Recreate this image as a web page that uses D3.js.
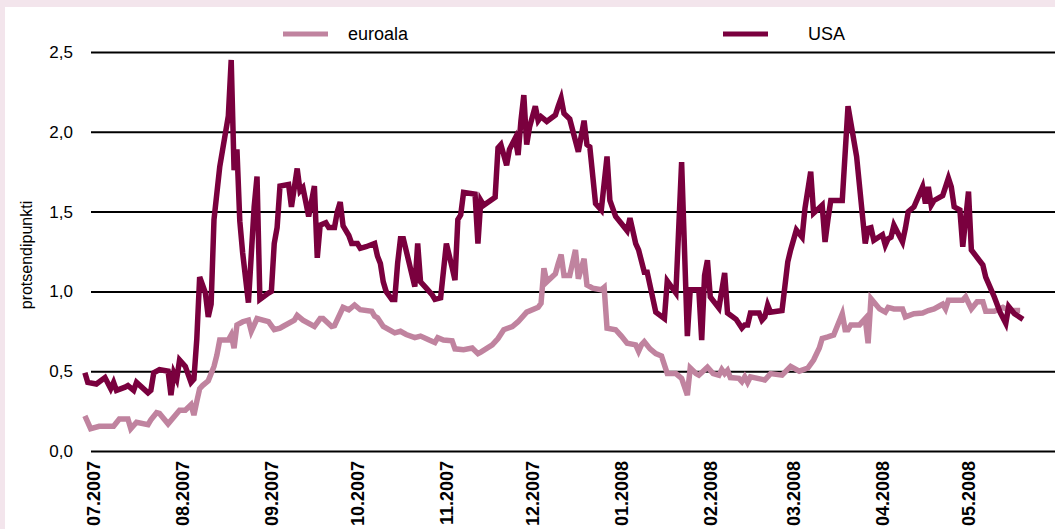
<!DOCTYPE html>
<html>
<head>
<meta charset="utf-8">
<script src="https://cdn.jsdelivr.net/npm/d3@7"></script>
<style>
  html, body { margin: 0; padding: 0; background: #f3e5ec; }
  svg { display: block; }
  text { font-family: "Liberation Sans", Arial, sans-serif; fill: #000; }
</style>
</head>
<body>
<svg id="chart" width="1055" height="529"></svg>
<script>
// Risk spread, percentage points: euro area vs USA, daily observations
const usaDates = [
  "2007-06-28","2007-06-29","2007-07-02","2007-07-05","2007-07-07","2007-07-08","2007-07-09","2007-07-12","2007-07-13","2007-07-15",
  "2007-07-16","2007-07-20","2007-07-21","2007-07-22","2007-07-24","2007-07-27","2007-07-28","2007-07-29","2007-07-30","2007-07-31",
  "2007-08-02","2007-08-04","2007-08-05","2007-08-06","2007-08-07","2007-08-09","2007-08-10","2007-08-11","2007-08-12","2007-08-14",
  "2007-08-17","2007-08-18","2007-08-19","2007-08-20","2007-08-21","2007-08-22","2007-08-24","2007-08-26","2007-08-27","2007-08-28","2007-08-31",
  "2007-09-01","2007-09-02","2007-09-03","2007-09-04","2007-09-07","2007-09-08","2007-09-10","2007-09-11","2007-09-12","2007-09-14",
  "2007-09-16","2007-09-17","2007-09-18","2007-09-20","2007-09-21","2007-09-23","2007-09-24","2007-09-25","2007-09-26","2007-09-28","2007-09-29",
  "2007-10-01","2007-10-02","2007-10-04","2007-10-07","2007-10-08","2007-10-09","2007-10-10","2007-10-11","2007-10-13","2007-10-14",
  "2007-10-15","2007-10-16","2007-10-17","2007-10-21","2007-10-22","2007-10-23","2007-10-25","2007-10-27","2007-10-28","2007-10-30",
  "2007-11-01","2007-11-03","2007-11-04","2007-11-05","2007-11-06","2007-11-07","2007-11-11","2007-11-12","2007-11-13","2007-11-14",
  "2007-11-18","2007-11-19","2007-11-20","2007-11-22","2007-11-23","2007-11-25","2007-11-26","2007-11-27","2007-11-28","2007-11-29","2007-11-30",
  "2007-12-02","2007-12-03","2007-12-04","2007-12-06","2007-12-09","2007-12-10","2007-12-11","2007-12-12","2007-12-14","2007-12-17",
  "2007-12-19","2007-12-20","2007-12-21","2007-12-23","2007-12-25","2007-12-27","2007-12-28","2007-12-30",
  "2008-01-01","2008-01-03","2008-01-04","2008-01-06","2008-01-07","2008-01-09","2008-01-10","2008-01-13","2008-01-16","2008-01-17",
  "2008-01-20","2008-01-22","2008-01-24","2008-01-25","2008-01-28","2008-01-29","2008-01-30","2008-01-31",
  "2008-02-01","2008-02-04","2008-02-06","2008-02-07","2008-02-10","2008-02-12","2008-02-13","2008-02-14","2008-02-15","2008-02-18",
  "2008-02-19","2008-02-20","2008-02-21","2008-02-22","2008-02-26","2008-02-28","2008-02-29",
  "2008-03-02","2008-03-04","2008-03-05","2008-03-07","2008-03-08","2008-03-11","2008-03-12","2008-03-13","2008-03-14","2008-03-18",
  "2008-03-20","2008-03-23","2008-03-26","2008-03-27","2008-03-28","2008-03-29",
  "2008-04-01","2008-04-02","2008-04-03","2008-04-04","2008-04-05","2008-04-08","2008-04-09","2008-04-10","2008-04-12","2008-04-15",
  "2008-04-16","2008-04-17","2008-04-18","2008-04-19","2008-04-22","2008-04-24","2008-04-25","2008-04-26","2008-04-28","2008-04-29",
  "2008-05-01","2008-05-02","2008-05-06","2008-05-07","2008-05-10","2008-05-12","2008-05-14","2008-05-15","2008-05-17","2008-05-20"
];
const usaValues = [
  0.49,0.43,0.42,0.46,0.39,0.43,0.38,0.40,0.41,0.38,
  0.43,0.365,0.38,0.49,0.51,0.50,0.35,0.49,0.45,0.57,
  0.53,0.43,0.45,0.70,1.09,0.99,0.84,0.92,1.45,1.78,
  2.10,2.45,1.76,1.89,1.44,1.24,0.93,1.53,1.72,0.95,0.99,
  1.00,1.30,1.40,1.66,1.67,1.53,1.77,1.63,1.65,1.47,
  1.66,1.21,1.415,1.43,1.40,1.40,1.50,1.56,1.41,1.35,1.30,
  1.30,1.27,1.28,1.30,1.22,1.175,1.06,1.00,0.95,0.95,
  1.175,1.33,1.33,1.03,1.30,1.06,1.02,0.98,0.95,0.96,
  1.30,1.15,1.07,1.45,1.48,1.62,1.61,1.30,1.57,1.54,
  1.59,1.90,1.92,1.79,1.89,1.96,1.855,2.07,2.23,1.92,2.03,
  2.16,2.07,2.095,2.065,2.105,2.16,2.21,2.115,2.08,1.875,
  2.07,1.92,1.905,1.55,1.51,1.845,1.57,1.47,
  1.425,1.38,1.46,1.30,1.26,1.12,1.12,0.87,0.83,1.065,
  0.99,1.81,0.72,1.01,1.01,0.695,1.10,1.195,
  0.965,0.895,1.115,0.865,0.825,0.77,0.79,0.79,0.865,0.865,
  0.82,0.84,0.915,0.87,0.88,1.185,1.26,
  1.385,1.34,1.52,1.75,1.49,1.54,1.31,1.45,1.57,1.57,
  2.16,1.845,1.30,1.395,1.40,1.32,
  1.355,1.29,1.33,1.34,1.415,1.31,1.395,1.50,1.53,1.655,
  1.55,1.655,1.54,1.57,1.60,1.71,1.655,1.53,1.51,1.28,
  1.625,1.26,1.165,1.09,0.965,0.87,0.80,0.905,0.86,0.825
];

const euroDates = [
  "2007-06-28","2007-06-30","2007-07-03","2007-07-08","2007-07-10","2007-07-13","2007-07-14","2007-07-16","2007-07-20","2007-07-21",
  "2007-07-23","2007-07-24","2007-07-27","2007-07-31",
  "2007-08-02","2007-08-04","2007-08-05","2007-08-06","2007-08-07","2007-08-08","2007-08-10","2007-08-12","2007-08-13","2007-08-14",
  "2007-08-17","2007-08-18","2007-08-19","2007-08-20","2007-08-22","2007-08-24","2007-08-25","2007-08-27","2007-08-31",
  "2007-09-02","2007-09-04","2007-09-05","2007-09-09","2007-09-10","2007-09-12","2007-09-16","2007-09-18","2007-09-19","2007-09-22",
  "2007-09-23","2007-09-26","2007-09-28","2007-09-30",
  "2007-10-02","2007-10-06","2007-10-07","2007-10-08","2007-10-10","2007-10-12","2007-10-14","2007-10-16","2007-10-18","2007-10-21",
  "2007-10-23","2007-10-26","2007-10-28","2007-10-29","2007-10-31",
  "2007-11-03","2007-11-04","2007-11-07","2007-11-10","2007-11-12","2007-11-13","2007-11-17","2007-11-19","2007-11-21","2007-11-24",
  "2007-11-26","2007-11-29",
  "2007-12-03","2007-12-04","2007-12-05","2007-12-06","2007-12-09","2007-12-10","2007-12-11","2007-12-12","2007-12-14","2007-12-16",
  "2007-12-17","2007-12-19","2007-12-20","2007-12-22","2007-12-25","2007-12-26","2007-12-27","2007-12-30",
  "2008-01-01","2008-01-03","2008-01-06","2008-01-07","2008-01-08","2008-01-09","2008-01-11","2008-01-13","2008-01-15","2008-01-17",
  "2008-01-20","2008-01-22","2008-01-24","2008-01-25","2008-01-27","2008-01-28","2008-01-31",
  "2008-02-02","2008-02-04","2008-02-05","2008-02-06","2008-02-07","2008-02-08","2008-02-11","2008-02-12","2008-02-13","2008-02-14",
  "2008-02-15","2008-02-20","2008-02-22","2008-02-26","2008-02-29",
  "2008-03-03","2008-03-06","2008-03-08","2008-03-10","2008-03-11","2008-03-13","2008-03-15","2008-03-18","2008-03-19","2008-03-20",
  "2008-03-21","2008-03-24","2008-03-26","2008-03-27","2008-03-28","2008-03-31",
  "2008-04-02","2008-04-03","2008-04-05","2008-04-08","2008-04-09","2008-04-12","2008-04-15","2008-04-17","2008-04-19","2008-04-21",
  "2008-04-22","2008-04-23","2008-04-24","2008-04-29","2008-04-30",
  "2008-05-02","2008-05-04","2008-05-06","2008-05-07","2008-05-10","2008-05-13","2008-05-15","2008-05-19"
];
const euroValues = [
  0.22,0.14,0.155,0.155,0.20,0.20,0.14,0.18,0.165,0.195,
  0.24,0.235,0.17,0.255,
  0.255,0.29,0.225,0.31,0.39,0.41,0.44,0.53,0.60,0.695,
  0.695,0.727,0.645,0.79,0.81,0.82,0.75,0.83,0.81,
  0.76,0.77,0.78,0.82,0.85,0.82,0.78,0.83,0.83,0.78,
  0.785,0.90,0.885,0.915,
  0.885,0.875,0.845,0.835,0.78,0.76,0.74,0.75,0.73,0.71,
  0.72,0.695,0.68,0.71,0.695,
  0.69,0.64,0.635,0.645,0.61,0.62,0.665,0.705,0.76,0.78,
  0.81,0.87,
  0.90,0.925,1.145,1.06,1.11,1.175,1.23,1.10,1.10,1.26,
  1.08,1.205,1.04,1.02,1.01,1.025,0.77,0.76,
  0.72,0.675,0.665,0.625,0.665,0.685,0.64,0.61,0.595,0.485,
  0.485,0.455,0.35,0.52,0.485,0.475,0.525,
  0.485,0.475,0.51,0.485,0.505,0.46,0.455,0.435,0.465,0.43,
  0.465,0.445,0.485,0.475,0.53,
  0.50,0.52,0.57,0.645,0.705,0.715,0.727,0.86,0.76,0.76,
  0.79,0.79,0.83,0.675,0.955,0.89,
  0.87,0.90,0.89,0.89,0.84,0.86,0.865,0.88,0.89,0.91,
  0.92,0.89,0.945,0.945,0.965,
  0.89,0.935,0.935,0.875,0.875,0.90,0.88,0.88
];

const yTicks = [0, 0.5, 1.0, 1.5, 2.0, 2.5];
const yTickLabels = ["0,0", "0,5", "1,0", "1,5", "2,0", "2,5"];
const monthTicks = ["2007-07-01","2007-08-01","2007-09-01","2007-10-01","2007-11-01","2007-12-01",
                    "2008-01-01","2008-02-01","2008-03-01","2008-04-01","2008-05-01"];
const seriesNames = ["euroala", "USA"];
const seriesColors = ["#c0839f", "#7a003e"];
const yTitle = "protsendipunkti";

const W = 1055, H = 529;
const parse = d3.utcParse("%Y-%m-%d");
const svg = d3.select("#chart");

// page frame: pale pink border, white plotting panel
svg.append("rect").attr("width", W).attr("height", H).attr("fill", "#f3e5ec");
svg.append("rect").attr("x", 5).attr("y", 7).attr("width", W - 5).attr("height", H - 7).attr("fill", "#fff");

const plotLeft = 91, plotRight = W;
const x = d3.scaleUtc()
  .domain([parse("2007-07-01"), parse("2008-05-01")])
  .range([93.5, 968.5]);
const y = d3.scaleLinear().domain([0, 2.5]).range([451, 52]);

// horizontal gridlines with value labels
const yAxis = d3.axisLeft(y)
  .tickValues(yTicks)
  .tickSize(-(plotRight - plotLeft))
  .tickPadding(18)
  .tickFormat((d, i) => yTickLabels[i]);
const gy = svg.append("g").attr("transform", `translate(${plotLeft},0)`).call(yAxis);
gy.select(".domain").remove();
gy.selectAll(".tick line").attr("stroke", "#000").attr("stroke-width", 2);
gy.selectAll(".tick text").style("font-size", "17px").style("font-family", "'Liberation Sans', Arial, sans-serif").attr("fill", "#000");

// month labels under the zero line
const xAxis = d3.axisBottom(x)
  .tickValues(monthTicks.map(parse))
  .tickSize(0)
  .tickFormat(d3.utcFormat("%m.%Y"));
const gx = svg.append("g").attr("transform", `translate(0,${y(0)})`).call(xAxis);
gx.select(".domain").remove();
gx.selectAll(".tick text")
  .attr("transform", "rotate(-90)")
  .attr("x", -10).attr("y", 0).attr("dy", "0.36em")
  .style("text-anchor", "end")
  .style("font-size", "18px").style("font-weight", "bold")
  .style("font-family", "'Liberation Sans', Arial, sans-serif")
  .attr("fill", "#000");

// y-axis title
svg.append("text")
  .attr("transform", "translate(32,255) rotate(-90)")
  .attr("text-anchor", "middle")
  .style("font-size", "16px")
  .text(yTitle);

// series lines; sharp joins are bevelled so one-day spikes stay at their value
const line = d3.line()
  .x(d => x(d.date))
  .y(d => y(d.value));

const euro = euroDates.map((d, i) => ({ date: parse(d), value: euroValues[i] }));
const usa = usaDates.map((d, i) => ({ date: parse(d), value: usaValues[i] }));

[euro, usa].forEach((data, i) => {
  svg.append("path")
    .datum(data)
    .attr("fill", "none")
    .attr("stroke", seriesColors[i])
    .attr("stroke-width", 5.5)
    .attr("stroke-linejoin", "miter")
    .attr("stroke-miterlimit", 4)
    .attr("d", line);
});

// legend
const legendX = [283, 723];
seriesNames.forEach((name, i) => {
  const g = svg.append("g").attr("transform", `translate(${legendX[i]},34)`);
  g.append("line").attr("x1", 0).attr("x2", 45).attr("y1", 0).attr("y2", 0)
    .attr("stroke", seriesColors[i]).attr("stroke-width", 5);
  g.append("text").attr("x", 65 + (i === 1 ? 20 : 0)).attr("y", 0).attr("dy", "0.36em")
    .style("font-size", "18px").text(name);
});
</script>
</body>
</html>
